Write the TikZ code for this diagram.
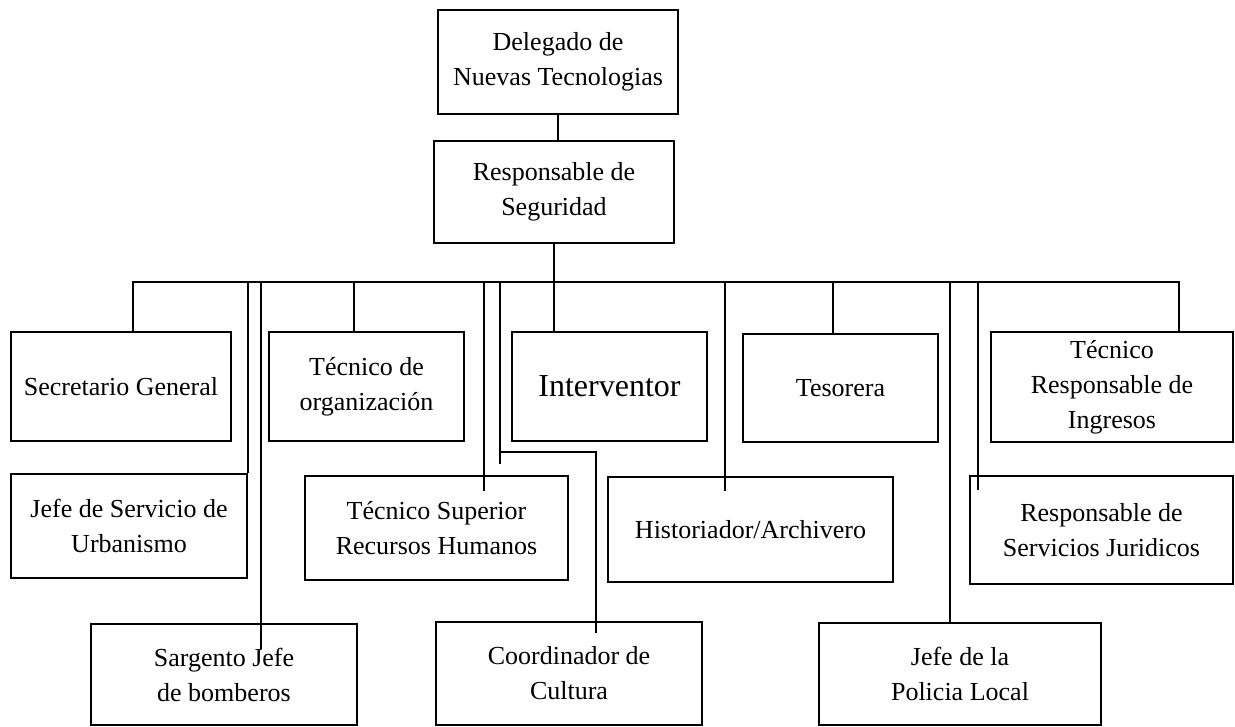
\documentclass[tikz,border=0pt]{standalone}
\usepackage{fontspec}
\setmainfont{Liberation Serif}
\usetikzlibrary{positioning}

\tikzset{
  cargo/.style={draw, line width=1.4pt, align=center, inner sep=2pt,
    font=\fontsize{26}{35}\selectfont},
  linea/.style={line width=1.6pt},
}

\begin{document}
\begin{tikzpicture}[x=1pt, y=-1pt]
    \useasboundingbox (0,0) rectangle (1235,726);

    % direccion
    \node[cargo, minimum width=240pt, minimum height=104pt] (deleg) at (558,62) {Delegado de\\Nuevas Tecnologias};
    \node[cargo, minimum width=240pt, minimum height=102pt] (resp) at (554,192) {Responsable de\\Seguridad};

    % primera fila
    \node[cargo, minimum width=220pt, minimum height=109pt] (secre) at (121,386.5) {Secretario General};
    \node[cargo, minimum width=195pt, minimum height=109pt] (torg) at (366.5,386.5) {Técnico de\\organización};
    \node[cargo, minimum width=195pt, minimum height=109pt, font=\fontsize{32}{38}\selectfont] (interv) at (609.5,386.5) {Interventor};
    \node[cargo, minimum width=195pt, minimum height=108pt] (tesor) at (840.5,388) {Tesorera};
    \node[cargo, minimum width=242pt, minimum height=110pt] (ingres) at (1112,387) {Técnico\\Responsable de\\Ingresos};

    % segunda fila
    \node[cargo, minimum width=236pt, minimum height=104pt] (urban) at (129,526) {Jefe de Servicio de\\Urbanismo};
    \node[cargo, minimum width=263pt, minimum height=104pt] (rrhh) at (436.5,528) {Técnico Superior\\Recursos Humanos};
    \node[cargo, minimum width=285pt, minimum height=105pt] (histo) at (750.5,529.5) {Historiador/Archivero};
    \node[cargo, minimum width=263pt, minimum height=108pt] (jurid) at (1101.5,530) {Responsable de\\Servicios Juridicos};

    % tercera fila
    \node[cargo, minimum width=266pt, minimum height=101pt] (sarg) at (224,674.5) {Sargento Jefe\\de bomberos};
    \node[cargo, minimum width=266pt, minimum height=103pt] (cultura) at (569,673.5) {Coordinador de\\Cultura};
    \node[cargo, minimum width=282pt, minimum height=102pt] (policia) at (960,674) {Jefe de la\\Policia Local};

    % conexiones
    \coordinate (bus) at (0,282);
    \coordinate (busL) at (133,282);
    \coordinate (busR) at (1179,282);
    \coordinate (codo) at (500,452);
    \draw[linea] (deleg.south) -- (deleg.south |- resp.north);
    \draw[linea] (resp.south) -- (interv.north -| resp.south);
    \draw[linea] (secre.north -| busL) -- (busL) -- (busR) -- (ingres.north -| busR);
    \draw[linea] ([xshift=-12.5pt]torg.north) -- ++(0,-50);
    \draw[linea] ([xshift=-7.5pt]tesor.north) -- ++(0,-52);
    \draw[linea] ([xshift=0.5pt]urban.north east) -- ++(0,-192);
    \draw[linea] ([xshift=37pt,yshift=-26pt]sarg.north) -- ++(0,-368);
    \draw[linea] ([xshift=47.5pt,yshift=-16pt]rrhh.north) -- ++(0,-210);
    \draw[linea] ([xshift=-25.5pt,yshift=-15pt]histo.north) -- ++(0,-210);
    \draw[linea] ([xshift=8.5pt,yshift=-15pt]jurid.north west) -- ++(0,-209);
    \draw[linea] ([xshift=-10pt]policia.north) -- ++(0,-341);
    \draw[linea] (codo |- bus) -- ++(0,182);
    \draw[linea] (codo) -| ([xshift=27pt,yshift=-12pt]cultura.north);
\end{tikzpicture}
\end{document}
